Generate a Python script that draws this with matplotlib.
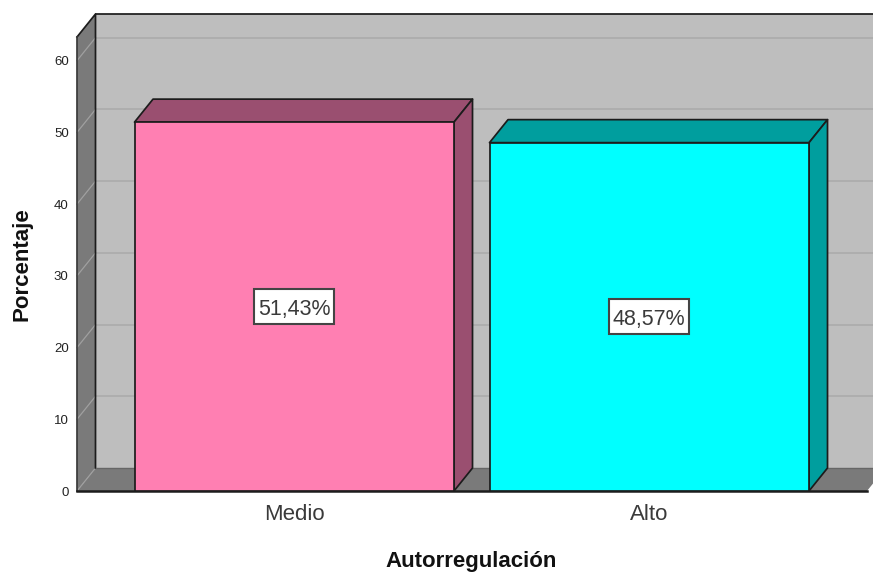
import matplotlib
matplotlib.use("Agg")
import matplotlib.pyplot as plt
from matplotlib.patches import Polygon, Rectangle
from matplotlib.transforms import offset_copy

categories = ["Medio", "Alto"]
values = [51.43, 48.57]
value_labels = ["51,43%", "48,57%"]
bar_colors = ["#FF7FB2", "#00FFFF"]
shade_colors = ["#9A4F70", "#009E9E"]
y_ticks = [0, 10, 20, 30, 40, 50, 60]

W, H = 873, 573
DPI = 100
plt.rcParams["font.family"] = ["Liberation Sans", "DejaVu Sans"]
fig = plt.figure(figsize=(W / DPI, H / DPI), dpi=DPI, facecolor="white")
left_px, right_px, top_px, bottom_px = 77, 867, 37, 491
ax = fig.add_axes([left_px / W, 1 - bottom_px / H, (right_px - left_px) / W, (bottom_px - top_px) / H])
ymax = 63.3
x0 = -0.612
x1 = x0 + (right_px - left_px) / 355
ax.set_xlim(x0, x1)
ax.set_ylim(0, ymax)
ax.patch.set_visible(False)
for s in ax.spines.values():
    s.set_visible(False)

# depth of the pseudo-3D effect, in data units
px_x = 1 / 355
px_y = ymax / (bottom_px - top_px)
dx = 18.5 * px_x
dy = 23 * px_y
edge = "#1c1c1c"
lw = 1.25


def poly(pts, fc, z, ec=edge, lw_=lw):
    ax.add_patch(Polygon(pts, closed=True, facecolor=fc, edgecolor=ec, linewidth=lw_,
                         zorder=z, clip_on=False, joinstyle="round"))


# back wall, left wall, floor
poly([(x0 + dx, dy), (x1 + dx, dy), (x1 + dx, ymax + dy), (x0 + dx, ymax + dy)], "#BEBEBE", 1, ec="none")
poly([(x0, 0), (x0 + dx, dy), (x0 + dx, ymax + dy), (x0, ymax)], "#7A7A7A", 2, ec="none")
poly([(x0, 0), (x1, 0), (x1 + dx, dy), (x0 + dx, dy)], "#7A7A7A", 2, ec="none")

# gridlines on walls
for t in y_ticks:
    if t > 0:
        ax.plot([x0 + dx, x1 + dx], [t + dy, t + dy], color="#AEAEAE", lw=1.4, zorder=1.5, clip_on=False)
    ax.plot([x0, x0 + dx], [t, t + dy], color="#A0A0A0", lw=0.9, zorder=2.5, clip_on=False)

# wall outlines
ax.plot([x0 + dx, x1 + dx], [ymax + dy, ymax + dy], color=edge, lw=lw, zorder=2.6, clip_on=False)
ax.plot([x0, x0 + dx, x0 + dx], [ymax, ymax + dy, dy], color=edge, lw=lw, zorder=2.6, clip_on=False)
ax.plot([x0, x0], [0, ymax], color="#3A3A3A", lw=lw, zorder=2.6, clip_on=False)
ax.plot([x0 + dx, x1 + dx], [dy, dy], color="#666666", lw=1.0, zorder=2.6, clip_on=False)
ax.plot([x0, x1], [0, 0], color=edge, lw=1.8, zorder=2.6, clip_on=False)

# bars
w = 0.9
text_trans = offset_copy(ax.transData, fig=fig, x=0, y=-2.5 * 72 / DPI, units="points")
for i, (v, c, sc, lab) in enumerate(zip(values, bar_colors, shade_colors, value_labels)):
    a, b = i - w / 2, i + w / 2
    poly([(a, v), (b, v), (b + dx, v + dy), (a + dx, v + dy)], sc, 3)
    poly([(b, 0), (b + dx, dy), (b + dx, v + dy), (b, v)], sc, 3)
    poly([(a, 0), (b, 0), (b, v), (a, v)], c, 4)
    ax.add_patch(Rectangle((i - 40 * px_x, v / 2 - 17.5 * px_y), 80 * px_x, 35 * px_y,
                           facecolor="white", edgecolor="#444444", linewidth=1.5, zorder=5))
    ax.text(i, v / 2, lab, ha="center", va="center", fontsize=15.5, color="#3A3A3A", zorder=6,
            transform=text_trans)

ax.set_xticks(range(len(categories)))
ax.set_xticklabels(categories, fontsize=16, color="#3A3A3A")
ax.set_yticks(y_ticks)
ax.set_yticklabels([str(t) for t in y_ticks], fontsize=9.5, color="#222222")
ax.tick_params(axis="both", length=0)
ax.tick_params(axis="x", pad=9)
ax.tick_params(axis="y", pad=6)

fig.text(471 / W, 1 - 561 / H, "Autorregulación", ha="center", va="center",
         fontsize=16, fontweight="bold", color="#111111")
fig.text(22 / W, 1 - 264 / H, "Porcentaje", ha="center", va="center", rotation=90,
         fontsize=16, fontweight="bold", color="#111111")

fig.savefig("out.png", dpi=DPI, facecolor="white")
